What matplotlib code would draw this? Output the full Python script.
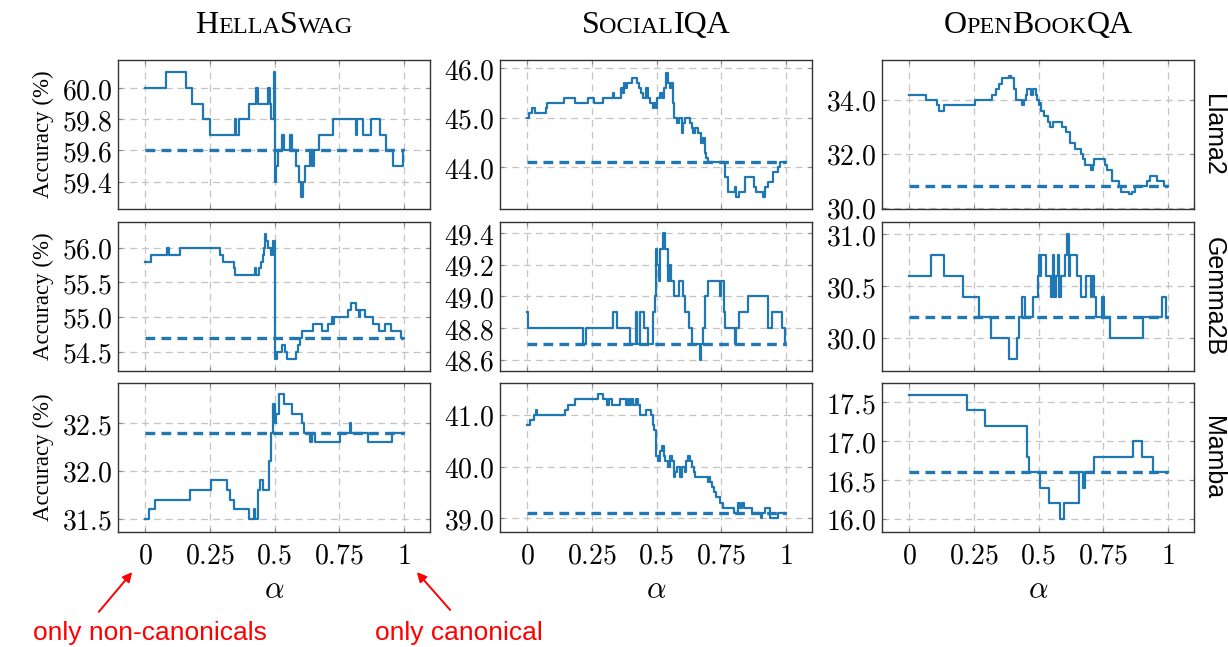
import matplotlib
matplotlib.use("Agg")
import matplotlib.pyplot as plt
from matplotlib.ticker import FixedLocator, FixedFormatter, FuncFormatter
from matplotlib.patches import FancyArrowPatch

plt.rcParams["mathtext.fontset"] = "cm"
plt.rcParams["lines.scale_dashes"] = False

# ------------------------------------------------------------------ data
datasets = ["HellaSwag", "SocialIQA", "OpenBookQA"]
models = ["Llama2", "Gemma2B", "Mamba"]
alpha_ticks = [0, 0.25, 0.5, 0.75, 1]
alpha_tick_labels = ["0", "0.25", "0.5", "0.75", "1"]
note_left = "only non-canonicals"
note_right = "only canonical"

# (alpha where level starts, accuracy)
hellaswag_llama2 = [
    (0, 60.0), (0.082, 60.1), (0.16, 60.0), (0.182, 59.9), (0.224, 59.8),
    (0.25, 59.7), (0.347, 59.8), (0.352, 59.7), (0.362, 59.8), (0.40, 59.9),
    (0.428, 60.0), (0.436, 59.9), (0.473, 60.0), (0.481, 59.9), (0.486, 59.8),
    (0.499, 60.1), (0.503, 59.4), (0.507, 59.5), (0.512, 59.6), (0.527, 59.7),
    (0.538, 59.6), (0.558, 59.7), (0.568, 59.6), (0.582, 59.5), (0.593, 59.4),
    (0.604, 59.3), (0.609, 59.4), (0.619, 59.5), (0.635, 59.6), (0.646, 59.5),
    (0.652, 59.6), (0.671, 59.7), (0.727, 59.8), (0.815, 59.7), (0.82, 59.8),
    (0.84, 59.7), (0.874, 59.8), (0.906, 59.7), (0.93, 59.6), (0.958, 59.5),
    (0.995, 59.6),
]
hellaswag_gemma2b = [
    (0, 55.8), (0.022, 55.9), (0.086, 56.0), (0.092, 55.9), (0.137, 56.0),
    (0.291, 55.9), (0.30, 55.8), (0.342, 55.7), (0.349, 55.6), (0.423, 55.7),
    (0.43, 55.6), (0.44, 55.7), (0.447, 55.8), (0.455, 55.9), (0.46, 56.0),
    (0.464, 56.2), (0.468, 56.1), (0.476, 56.0), (0.486, 55.9), (0.495, 56.1),
    (0.503, 54.4), (0.51, 54.5), (0.53, 54.6), (0.542, 54.5), (0.548, 54.4),
    (0.582, 54.5), (0.592, 54.6), (0.599, 54.7), (0.607, 54.8), (0.65, 54.9),
    (0.682, 54.8), (0.708, 54.9), (0.72, 55.0), (0.724, 54.9), (0.73, 55.0),
    (0.785, 55.1), (0.797, 55.2), (0.814, 55.1), (0.827, 55.0), (0.831, 55.1),
    (0.849, 55.0), (0.881, 54.9), (0.904, 54.8), (0.926, 54.9), (0.951, 54.8),
    (0.99, 54.7),
]
hellaswag_mamba = [
    (0, 31.5), (0.015, 31.6), (0.037, 31.7), (0.172, 31.8), (0.253, 31.9),
    (0.317, 31.8), (0.33, 31.7), (0.342, 31.6), (0.40, 31.5), (0.419, 31.6),
    (0.424, 31.5), (0.438, 31.8), (0.443, 31.9), (0.455, 31.8), (0.477, 32.1),
    (0.486, 32.4), (0.494, 32.7), (0.502, 32.5), (0.507, 32.6), (0.518, 32.8),
    (0.535, 32.7), (0.567, 32.6), (0.605, 32.5), (0.614, 32.4), (0.637, 32.3),
    (0.643, 32.4), (0.656, 32.3), (0.753, 32.4), (0.791, 32.5), (0.797, 32.4),
    (0.859, 32.3), (0.955, 32.4),
]
socialiqa_llama2 = [
    (0, 45.0), (0.006, 45.1), (0.019, 45.2), (0.032, 45.1), (0.072, 45.2),
    (0.077, 45.3), (0.144, 45.4), (0.186, 45.3), (0.237, 45.4), (0.259, 45.3),
    (0.295, 45.4), (0.331, 45.5), (0.335, 45.4), (0.363, 45.6), (0.370, 45.5),
    (0.374, 45.7), (0.380, 45.6), (0.386, 45.7), (0.404, 45.8), (0.423, 45.7),
    (0.433, 45.6), (0.440, 45.5), (0.446, 45.4), (0.460, 45.6), (0.466, 45.4),
    (0.474, 45.3), (0.486, 45.2), (0.491, 45.3), (0.497, 45.2), (0.503, 45.4),
    (0.513, 45.5), (0.522, 45.4), (0.529, 45.6), (0.536, 45.9), (0.545, 45.7),
    (0.551, 45.6), (0.556, 45.7), (0.563, 45.3), (0.569, 45.0), (0.578, 44.9),
    (0.587, 45.0), (0.597, 44.7), (0.602, 44.9), (0.609, 45.0), (0.628, 44.9),
    (0.635, 44.8), (0.641, 44.7), (0.650, 44.8), (0.660, 44.7), (0.671, 44.5),
    (0.679, 44.6), (0.686, 44.3), (0.692, 44.2), (0.699, 44.1), (0.765, 43.8),
    (0.774, 43.5), (0.801, 43.6), (0.808, 43.4), (0.818, 43.5), (0.843, 43.8),
    (0.875, 43.6), (0.885, 43.5), (0.912, 43.4), (0.920, 43.6), (0.929, 43.7),
    (0.948, 43.9), (0.970, 44.0), (0.976, 44.1),
]
socialiqa_gemma2b = [
    (0, 48.9), (0.004, 48.8), (0.218, 48.7), (0.226, 48.8), (0.331, 48.9),
    (0.347, 48.8), (0.399, 48.7), (0.419, 48.9), (0.424, 48.7), (0.437, 48.9),
    (0.452, 48.8), (0.469, 48.7), (0.487, 48.9), (0.493, 49.0), (0.497, 49.3),
    (0.503, 49.2), (0.509, 49.1), (0.515, 49.3), (0.525, 49.4), (0.532, 49.3),
    (0.543, 49.1), (0.551, 49.2), (0.556, 49.1), (0.567, 49.0), (0.585, 49.1),
    (0.602, 49.0), (0.609, 48.9), (0.626, 48.8), (0.638, 48.7), (0.666, 48.6),
    (0.672, 48.7), (0.680, 48.8), (0.688, 49.0), (0.697, 49.1), (0.744, 49.0),
    (0.748, 49.1), (0.760, 48.9), (0.764, 48.8), (0.802, 48.7), (0.808, 48.8),
    (0.817, 48.9), (0.853, 49.0), (0.930, 48.8), (0.945, 48.9), (0.985, 48.8),
    (0.996, 48.7),
]
socialiqa_mamba = [
    (0, 40.8), (0.013, 40.9), (0.026, 41.0), (0.033, 41.1), (0.038, 41.0),
    (0.146, 41.1), (0.158, 41.2), (0.186, 41.3), (0.276, 41.4), (0.294, 41.3),
    (0.310, 41.2), (0.316, 41.3), (0.329, 41.2), (0.358, 41.3), (0.383, 41.2),
    (0.389, 41.3), (0.395, 41.2), (0.401, 41.3), (0.408, 41.2), (0.419, 41.3),
    (0.430, 41.2), (0.438, 41.0), (0.460, 41.1), (0.479, 41.0), (0.485, 40.8),
    (0.491, 40.7), (0.497, 40.2), (0.505, 40.1), (0.515, 40.3), (0.521, 40.4),
    (0.527, 40.2), (0.533, 40.1), (0.544, 40.0), (0.553, 40.2), (0.560, 40.1),
    (0.566, 39.8), (0.572, 39.9), (0.578, 40.0), (0.592, 39.8), (0.598, 40.0),
    (0.610, 39.9), (0.615, 40.1), (0.622, 40.2), (0.630, 40.1), (0.636, 40.0),
    (0.643, 39.9), (0.650, 39.8), (0.697, 39.7), (0.701, 39.8), (0.706, 39.7),
    (0.714, 39.6), (0.722, 39.5), (0.728, 39.4), (0.744, 39.3), (0.756, 39.2),
    (0.800, 39.1), (0.815, 39.3), (0.824, 39.2), (0.830, 39.3), (0.837, 39.2),
    (0.867, 39.1), (0.902, 39.0), (0.907, 39.1), (0.920, 39.2), (0.937, 39.0),
    (0.970, 39.1),
]
openbookqa_llama2 = [
    (0, 34.2), (0.064, 34.0), (0.110, 33.8), (0.115, 33.6), (0.135, 33.8),
    (0.256, 34.0), (0.322, 34.2), (0.335, 34.4), (0.348, 34.6), (0.361, 34.8),
    (0.385, 34.9), (0.392, 34.8), (0.406, 34.4), (0.413, 34.0), (0.438, 33.8),
    (0.443, 34.0), (0.452, 34.2), (0.457, 34.4), (0.472, 34.2), (0.478, 34.4),
    (0.492, 34.2), (0.496, 34.0), (0.500, 33.8), (0.504, 33.9), (0.510, 33.6),
    (0.520, 33.4), (0.535, 33.2), (0.545, 33.0), (0.555, 33.2), (0.590, 33.0),
    (0.605, 32.8), (0.620, 32.4), (0.640, 32.2), (0.665, 32.0), (0.672, 31.8),
    (0.680, 31.6), (0.703, 31.4), (0.710, 31.6), (0.716, 31.8), (0.758, 31.6),
    (0.765, 31.4), (0.785, 31.0), (0.810, 30.8), (0.820, 30.6), (0.850, 30.5),
    (0.860, 30.6), (0.872, 30.8), (0.920, 31.0), (0.930, 31.2), (0.958, 31.0),
    (0.985, 30.8),
]
openbookqa_gemma2b = [
    (0, 30.6), (0.086, 30.8), (0.137, 30.6), (0.209, 30.4), (0.270, 30.2),
    (0.315, 30.0), (0.386, 29.8), (0.418, 30.0), (0.424, 30.2), (0.435, 30.4),
    (0.446, 30.2), (0.477, 30.4), (0.497, 30.6), (0.501, 30.8), (0.506, 30.6),
    (0.510, 30.8), (0.530, 30.6), (0.549, 30.4), (0.555, 30.8), (0.560, 30.4),
    (0.566, 30.6), (0.574, 30.8), (0.579, 30.4), (0.587, 30.6), (0.604, 30.8),
    (0.610, 31.0), (0.616, 30.6), (0.620, 30.8), (0.648, 30.6), (0.665, 30.4),
    (0.685, 30.6), (0.704, 30.4), (0.708, 30.6), (0.714, 30.4), (0.720, 30.2),
    (0.745, 30.4), (0.752, 30.2), (0.774, 30.0), (0.902, 30.2), (0.977, 30.4),
    (0.993, 30.2),
]
openbookqa_mamba = [
    (0, 17.6), (0.224, 17.4), (0.295, 17.2), (0.455, 16.8), (0.463, 16.6),
    (0.505, 16.4), (0.542, 16.2), (0.582, 16.0), (0.600, 16.2), (0.658, 16.6),
    (0.670, 16.4), (0.681, 16.6), (0.716, 16.8), (0.864, 17.0), (0.899, 16.8),
    (0.940, 16.6),
]

hellaswag_baseline = [59.6, 54.7, 32.4]
socialiqa_baseline = [44.1, 48.7, 39.1]
openbookqa_baseline = [30.8, 30.2, 16.6]

hellaswag_yticks = [[59.4, 59.6, 59.8, 60.0], [54.5, 55.0, 55.5, 56.0], [31.5, 32.0, 32.5]]
socialiqa_yticks = [[44.0, 45.0, 46.0], [48.6, 48.8, 49.0, 49.2, 49.4], [39.0, 40.0, 41.0]]
openbookqa_yticks = [[30.0, 32.0, 34.0], [30.0, 30.5, 31.0], [16.0, 16.5, 17.0, 17.5]]

# ------------------------------------------------------------------ layout
W, H = 1228, 647
BLUE = "#1f78b4"
col_left = [118, 500, 882]
ax_w = 312
row_top = [60, 222, 383]
ax_h = 149
xlim = (-0.104, 1.1)
ylims = [
    [(59.225, 60.18), (54.22, 56.37), (31.36, 32.92)],
    [(43.16, 46.17), (48.53, 49.47), (38.73, 41.62)],
    [(29.96, 35.48), (29.68, 31.12), (15.83, 17.75)],
]
series = [
    [hellaswag_llama2, hellaswag_gemma2b, hellaswag_mamba],
    [socialiqa_llama2, socialiqa_gemma2b, socialiqa_mamba],
    [openbookqa_llama2, openbookqa_gemma2b, openbookqa_mamba],
]
baselines = [hellaswag_baseline, socialiqa_baseline, openbookqa_baseline]
yticks = [hellaswag_yticks, socialiqa_yticks, openbookqa_yticks]

title_parts = [
    [("H", 1), ("ELLA", 0), ("S", 1), ("WAG", 0)],
    [("S", 1), ("OCIAL", 0), ("IQA", 1)],
    [("O", 1), ("PEN", 0), ("B", 1), ("OOK", 0), ("QA", 1)],
]

fig = plt.figure(figsize=(W / 100, H / 100), dpi=100)


def fx(px):
    return px / W


def fy(py):
    return 1 - py / H


for c in range(3):
    for r in range(3):
        ax = fig.add_axes([fx(col_left[c]), fy(row_top[r] + ax_h), ax_w / W, ax_h / H])
        pts = series[c][r]
        xs = [p[0] for p in pts] + [1.0]
        ys = [p[1] for p in pts] + [pts[-1][1]]
        ax.plot(xs, ys, drawstyle="steps-post", color=BLUE, lw=1.6, zorder=3)
        b = baselines[c][r]
        ax.plot([0, 1], [b, b], color=BLUE, lw=2.4, linestyle=(0, (7, 4.5)), zorder=2)
        ax.set_xlim(*xlim)
        ax.set_ylim(*ylims[c][r])
        ax.xaxis.set_major_locator(FixedLocator(alpha_ticks))
        ax.yaxis.set_major_locator(FixedLocator(yticks[c][r]))
        ax.yaxis.set_major_formatter(FuncFormatter(lambda v, p: f"${v:.1f}$"))
        if r == 2:
            ax.xaxis.set_major_formatter(FixedFormatter([f"${s}$" for s in alpha_tick_labels]))
            ax.set_xlabel(r"$\alpha$", fontsize=22, labelpad=4)
        else:
            ax.xaxis.set_major_formatter(FixedFormatter([""] * len(alpha_ticks)))
        ax.grid(True, color="#c4c4c4", lw=0.9, linestyle=(0, (5, 3.5)))
        ax.set_axisbelow(True)
        for s in ax.spines.values():
            s.set_color("#333333")
            s.set_linewidth(1.0)
        ax.tick_params(direction="in", length=3, width=0.8, color="#888888",
                       top=True, right=True, labelsize=20, pad=4)
        ax.tick_params(axis="x", pad=7)
        if c == 0:
            ax.set_ylabel("Accuracy (%)", family="Liberation Serif", fontsize=16.5, labelpad=6)
        if c == 2:
            ax.text(1.062, 0.5, models[r], transform=ax.transAxes, rotation=270,
                    family="Liberation Sans", fontsize=18, ha="center", va="center")

fig.align_ylabels([a for a in fig.axes[:3]])

# small caps titles
renderer = fig.canvas.get_renderer()
BIG, SMALL = 23, 17.5
for c in range(3):
    texts = []
    for s, big in title_parts[c]:
        t = fig.text(0, 0, s, fontsize=BIG if big else SMALL, family="Liberation Serif",
                     ha="left", va="baseline")
        texts.append(t)
    widths = [t.get_window_extent(renderer).width for t in texts]
    x = col_left[c] + ax_w / 2 - sum(widths) / 2
    for t, w in zip(texts, widths):
        t.set_position((fx(x), fy(33)))
        x += w

# red notes and arrows
fig.text(fx(150), fy(633), note_left, color="red", fontsize=19, family="Liberation Sans",
         ha="center", va="center")
fig.text(fx(459), fy(633), note_right, color="red", fontsize=19, family="Liberation Sans",
         ha="center", va="center")
for (x0, y0), (x1, y1) in [((97, 614), (134, 570)), ((452, 612), (415, 570))]:
    fig.add_artist(FancyArrowPatch((fx(x0), fy(y0)), (fx(x1), fy(y1)), transform=fig.transFigure,
                                   arrowstyle="-|>", mutation_scale=14, color="red", lw=1.4))

fig.savefig("out.png", dpi=100)
